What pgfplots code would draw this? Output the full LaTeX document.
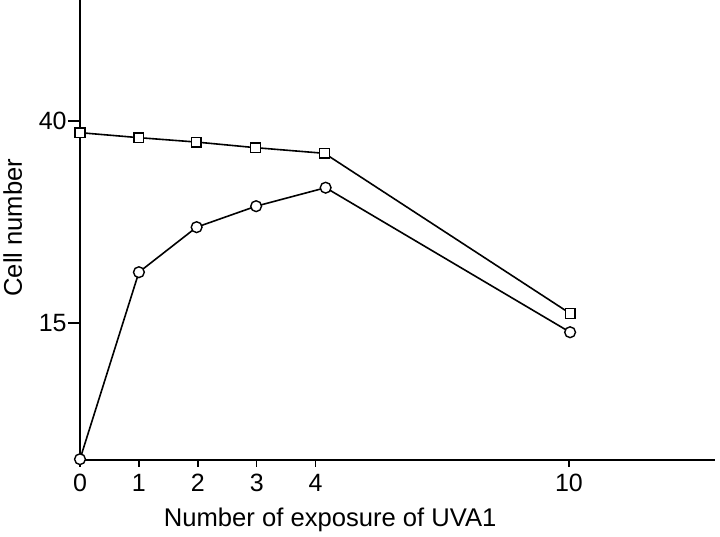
\documentclass[border=0pt]{standalone}
\usepackage{fontspec}
\setmainfont{Liberation Sans}
\usepackage{pgfplots}
\pgfplotsset{compat=1.18}

\begin{document}
\begin{tikzpicture}
\begin{axis}[
  scale only axis,
  width=317.5pt, height=230pt,
  xmin=0, xmax=10.78,
  ymin=-2, ymax=55,
  axis lines=left,
  axis line style={-, line width=0.7pt},
  xtick={0,1,2,3,4,8.3},
  xticklabels={0,1,2,3,4,10},
  ytick={15,40},
  tick align=outside,
  major tick length=3.5pt,
  tick style={line width=0.7pt, black},
  y tick style={/pgfplots/major tick length=6pt},
  /pgf/number format/assume math mode=true,
  tick label style={font=\fontsize{12.5}{15}\selectfont},
  xticklabel style={inner sep=1pt, yshift=-2.5pt},
  yticklabel style={inner sep=1.5pt, xshift=-1.5pt},
  label style={font=\fontsize{12.8}{15}\selectfont},
  xlabel={Number of exposure of UVA1},
  xlabel style={at={(axis description cs:0.394,0)}, anchor=base, yshift=-33.5pt, inner sep=0pt},
  ylabel={Cell number},
  ylabel style={at={(axis description cs:0,0.505)}, anchor=north, yshift=38.5pt, inner sep=0pt},
  clip=false,
]
% squares
\addplot[black, line width=0.8pt, mark=square*, mark size=2.4pt, mark options={solid, fill=white, line width=0.7pt}]
  coordinates {(0,38.56) (1,37.94) (1.97,37.4) (2.98,36.7) (4.15,36.0) (8.32,16.16)};
% circles
\addplot[black, line width=0.8pt, mark=*, mark size=2.7pt, mark options={solid, fill=white, line width=0.7pt}]
  coordinates {(0,-1.9) (1,21.27) (1.98,26.85) (2.99,29.45) (4.17,31.74) (8.32,13.83)};
\end{axis}
\pgfresetboundingbox
\path ([shift={(-40pt,-38.5pt)}]current axis.south west) rectangle ([shift={(2.5pt,0pt)}]current axis.north east);
\end{tikzpicture}
\end{document}
